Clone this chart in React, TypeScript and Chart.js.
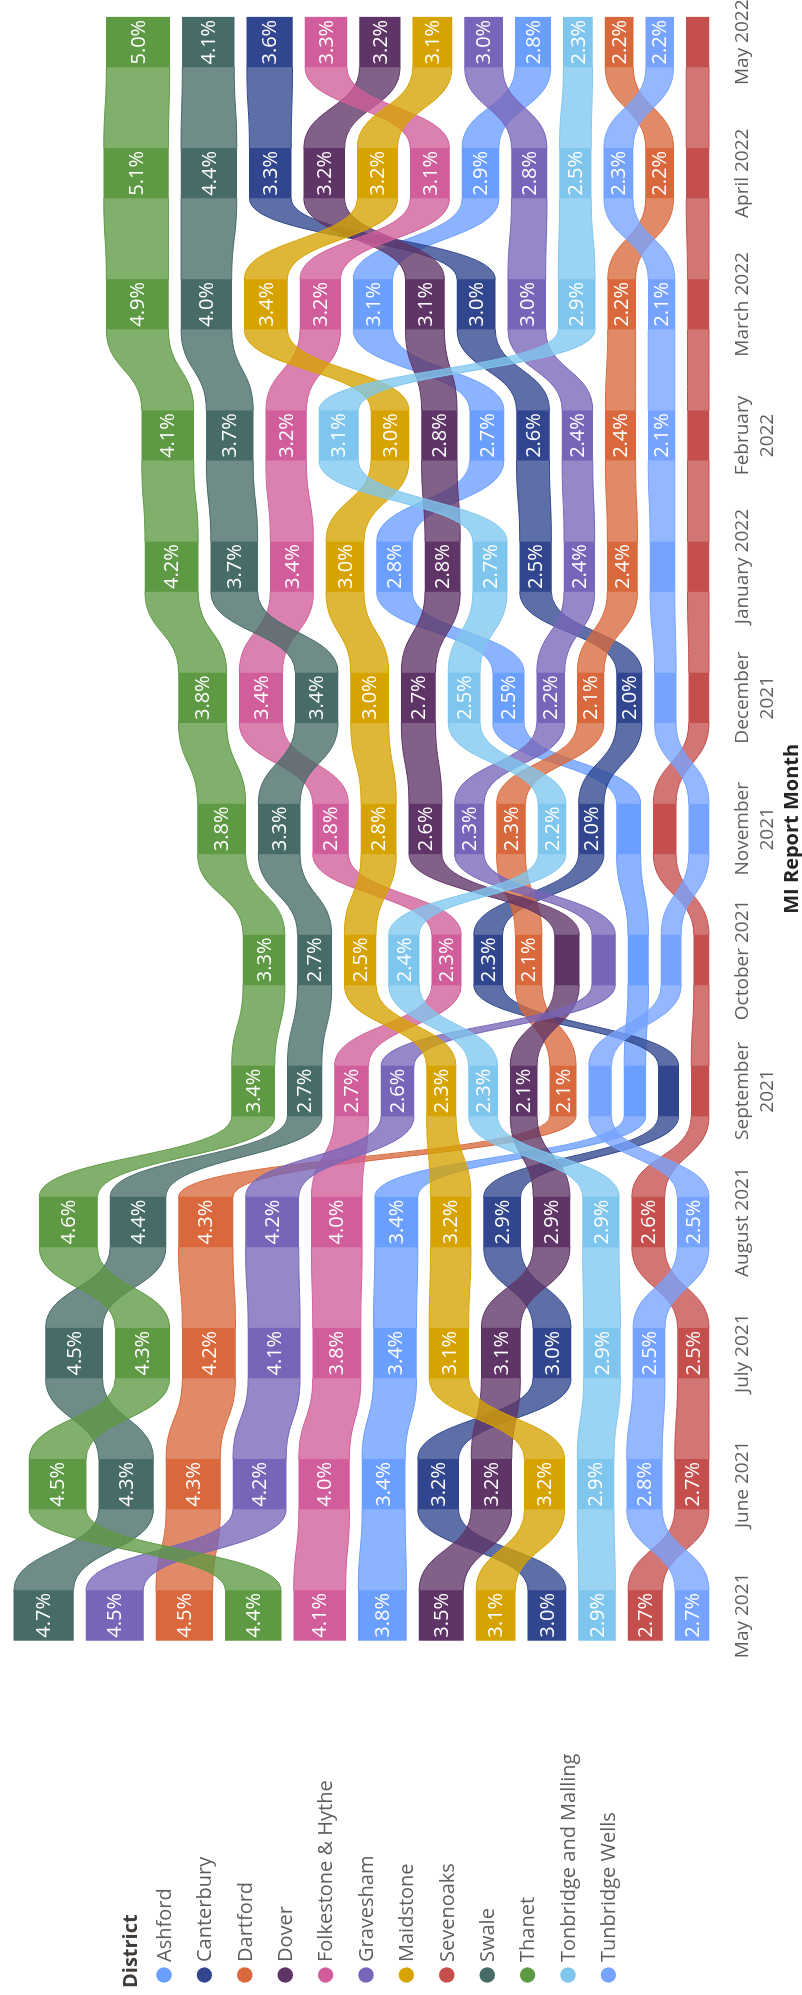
import React, { useEffect, useRef } from 'react';
import { Chart, registerables } from 'chart.js';

Chart.register(...registerables);

const FONT = "'Segoe UI', 'Open Sans', sans-serif";

// Months (category axis)
const MONTH_LABELS: (string | string[])[] = [
  'May 2021', 'June 2021', 'July 2021', 'August 2021', ['September', '2021'],
  'October 2021', ['November', '2021'], ['December', '2021'], 'January 2022',
  ['February', '2022'], 'March 2022', 'April 2022', 'May 2022',
];

const DISTRICTS = [
  'Ashford', 'Canterbury', 'Dartford', 'Dover', 'Folkestone & Hythe', 'Gravesham',
  'Maidstone', 'Sevenoaks', 'Swale', 'Thanet', 'Tonbridge and Malling', 'Tunbridge Wells',
];

const COLORS = [
  '#6A9EFF', '#31468F', '#D9693C', '#5F3467', '#D15E9A', '#7765B9',
  '#D6A300', '#C44F4D', '#476B67', '#5E9943', '#7FC6EE', '#76A3FF',
];

// Values (%), May 2021 .. May 2022
const ashford = [3.8, 3.4, 3.4, 3.4, 1.7, 1.62, 1.9, 2.48, 2.82, 2.7, 3.12, 2.9, 2.8];
const canterbury = [3.0, 3.22, 3.0, 2.92, 1.6, 2.28, 2.0, 2.0, 2.5, 2.6, 3.02, 3.3, 3.6];
const dartford = [4.48, 4.28, 4.2, 4.3, 2.08, 2.1, 2.28, 2.1, 2.38, 2.38, 2.2, 2.2, 2.22];
const dover = [3.5, 3.2, 3.08, 2.9, 2.12, 1.95, 2.6, 2.7, 2.78, 2.8, 3.08, 3.22, 3.2];
const folkestone = [4.1, 4.0, 3.8, 4.0, 2.68, 2.32, 2.82, 3.42, 3.4, 3.2, 3.2, 3.1, 3.3];
const gravesham = [4.52, 4.2, 4.1, 4.2, 2.6, 1.85, 2.32, 2.2, 2.42, 2.42, 2.98, 2.8, 3.0];
const maidstone = [3.1, 3.18, 3.12, 3.2, 2.32, 2.5, 2.78, 3.0, 3.0, 3.0, 3.4, 3.18, 3.1];
const sevenoaks = [2.72, 2.7, 2.48, 2.6, 1.4, 1.2, 1.8, 1.6, 1.7, 1.7, 1.7, 1.8, 1.8];
const swale = [4.7, 4.32, 4.5, 4.4, 2.72, 2.7, 3.3, 3.38, 3.7, 3.7, 4.0, 4.4, 4.1];
const thanet = [4.4, 4.5, 4.3, 4.6, 3.4, 3.3, 3.8, 3.8, 4.2, 4.1, 4.9, 5.1, 5.0];
const tonbridgeMalling = [2.9, 2.9, 2.9, 2.88, 2.28, 2.4, 2.2, 2.52, 2.7, 3.1, 2.9, 2.5, 2.3];
const tunbridgeWells = [2.68, 2.8, 2.52, 2.5, 1.8, 1.58, 1.6, 1.7, 1.95, 2.1, 2.1, 2.3, 2.18];

const VALUES = [
  ashford, canterbury, dartford, dover, folkestone, gravesham,
  maidstone, sevenoaks, swale, thanet, tonbridgeMalling, tunbridgeWells,
];

const GAP = 1.0; // spacing between ribbons, in value units
const LABEL_MIN = 2.0; // smaller segments carry no label

// Floating [start, end] per district per month: ranked, largest farthest from baseline
function buildRanges(): number[][][] {
  const ranges: number[][][] = DISTRICTS.map(() => []);
  for (let m = 0; m < MONTH_LABELS.length; m++) {
    const order = DISTRICTS.map((_, d) => d).sort((a, b) => VALUES[b][m] - VALUES[a][m]);
    let base = 0;
    for (let i = order.length - 1; i >= 0; i--) {
      const d = order[i];
      ranges[d][m] = [base, base + VALUES[d][m]];
      base += VALUES[d][m] + GAP;
    }
  }
  return ranges;
}

function rgba(hex: string, a: number) {
  const n = parseInt(hex.slice(1), 16);
  return `rgba(${(n >> 16) & 255},${(n >> 8) & 255},${n & 255},${a})`;
}

export default function App() {
  const ref = useRef<HTMLCanvasElement | null>(null);

  useEffect(() => {
    const canvas = ref.current;
    if (!canvas) return;
    document.body.style.overflow = 'hidden';
    const ranges = buildRanges();

    const ribbonPlugin = {
      id: 'ribbons',
      beforeDatasetsDraw(chart: any) {
        const ctx = chart.ctx;
        const ys = chart.scales.y;
        chart.data.datasets.forEach((_: any, d: number) => {
          const meta = chart.getDatasetMeta(d);
          ctx.save();
          ctx.fillStyle = rgba(COLORS[d], 0.78);
          ctx.strokeStyle = COLORS[d];
          ctx.lineWidth = 1;
          for (let m = 0; m < MONTH_LABELS.length - 1; m++) {
            const e0 = meta.data[m];
            const e1 = meta.data[m + 1];
            const x0 = e0.x + e0.width / 2;
            const x1 = e1.x - e1.width / 2;
            const xm = (x0 + x1) / 2;
            const top0 = ys.getPixelForValue(ranges[d][m][1]);
            const bot0 = ys.getPixelForValue(ranges[d][m][0]);
            const top1 = ys.getPixelForValue(ranges[d][m + 1][1]);
            const bot1 = ys.getPixelForValue(ranges[d][m + 1][0]);
            ctx.beginPath();
            ctx.moveTo(x0, top0);
            ctx.bezierCurveTo(xm, top0, xm, top1, x1, top1);
            ctx.lineTo(x1, bot1);
            ctx.bezierCurveTo(xm, bot1, xm, bot0, x0, bot0);
            ctx.closePath();
            ctx.fill();
            ctx.beginPath();
            ctx.moveTo(x0, top0);
            ctx.bezierCurveTo(xm, top0, xm, top1, x1, top1);
            ctx.moveTo(x1, bot1);
            ctx.bezierCurveTo(xm, bot1, xm, bot0, x0, bot0);
            ctx.stroke();
          }
          ctx.restore();
        });
      },
    };

    const labelPlugin = {
      id: 'segLabels',
      afterDatasetsDraw(chart: any) {
        const ctx = chart.ctx;
        ctx.save();
        ctx.fillStyle = '#FFFFFF';
        ctx.font = `20px ${FONT}`;
        ctx.textAlign = 'center';
        ctx.textBaseline = 'middle';
        chart.data.datasets.forEach((_: any, d: number) => {
          const meta = chart.getDatasetMeta(d);
          meta.data.forEach((el: any, m: number) => {
            const v = VALUES[d][m];
            if (v < LABEL_MIN) return;
            const cy = (el.y + el.base) / 2;
            ctx.fillText(`${v.toFixed(1)}%`, el.x, cy + 1);
          });
        });
        ctx.restore();
      },
    };

    const legendPlugin = {
      id: 'districtLegend',
      afterDraw(chart: any) {
        const ctx = chart.ctx;
        ctx.save();
        ctx.textAlign = 'left';
        ctx.textBaseline = 'middle';
        ctx.fillStyle = '#3F3B38';
        ctx.font = `bold 20px ${FONT}`;
        ctx.fillText('District', 7, 131);
        ctx.font = `20px ${FONT}`;
        DISTRICTS.forEach((name, i) => {
          const y = 164 + i * 40.4;
          ctx.beginPath();
          ctx.fillStyle = COLORS[i];
          ctx.arc(20, y, 7.7, 0, Math.PI * 2);
          ctx.fill();
          ctx.fillStyle = '#605E5C';
          ctx.fillText(name, 33, y + 1);
        });
        ctx.restore();
      },
    };

    const chart = new Chart(canvas, {
      type: 'bar',
      data: {
        labels: MONTH_LABELS as any,
        datasets: DISTRICTS.map((name, d) => ({
          label: name,
          data: ranges[d] as any,
          backgroundColor: COLORS[d],
          borderWidth: 0,
          grouped: false,
          barThickness: 50,
          clip: false,
        })),
      },
      options: {
        responsive: false,
        animation: false,
        devicePixelRatio: 1,
        layout: { padding: { left: 379.6, right: 42.2, top: 0, bottom: 0 } },
        plugins: { legend: { display: false }, tooltip: { enabled: false } },
        scales: {
          x: {
            type: 'category',
            offset: false,
            grid: { display: false, drawTicks: false },
            border: { display: false },
            ticks: {
              color: '#605E5C',
              font: { family: FONT, size: 19, lineHeight: 1.32 },
              padding: 21,
              maxRotation: 0,
              minRotation: 0,
              autoSkip: false,
            },
            title: {
              display: true,
              text: 'MI Report Month',
              color: '#252423',
              font: { family: FONT, size: 20, weight: 'bold', lineHeight: 1 },
              padding: 0,
            },
            afterFit: (s: any) => {
              s.height = 93;
              s.paddingLeft = 0;
              s.paddingRight = 0;
            },
          },
          y: { display: false, min: 0, max: 56 },
        },
      } as any,
      plugins: [ribbonPlugin, labelPlugin, legendPlugin],
    });
    return () => chart.destroy();
  }, []);

  return (
    <div style={{ position: 'absolute', left: 0, top: 0, width: 802, height: 1995, overflow: 'hidden', background: '#fff' }}>
      <canvas
        ref={ref}
        width={1995}
        height={802}
        style={{
          position: 'absolute',
          left: 0,
          top: 0,
          width: 1995,
          height: 802,
          transformOrigin: '0 0',
          transform: 'translateY(1995px) rotate(-90deg)',
        }}
      />
    </div>
  );
}
